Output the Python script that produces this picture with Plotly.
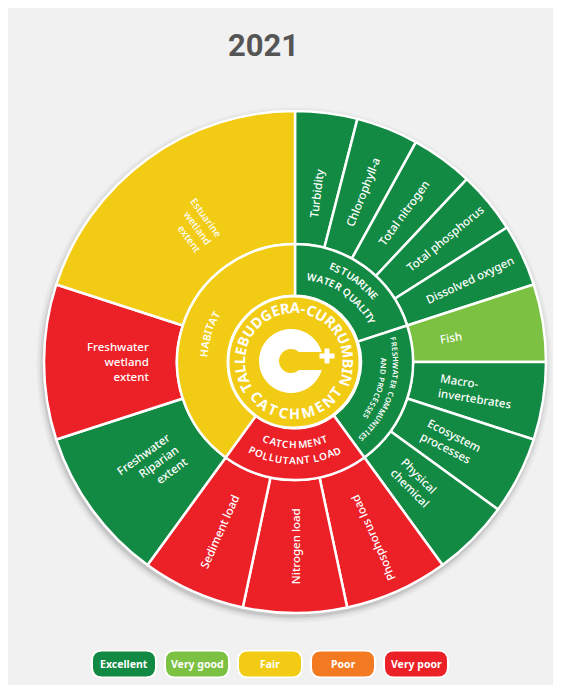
import math
import plotly.graph_objects as go

W, H = 561, 685
PAGE = 8                           # browser body margin: screen px = figure px + 8
CX, CY = 295, 362                  # wheel centre (screen px)
R_OUT, R_MID, R_IN = 251, 118, 66  # ring radii (px)
R_LABEL = 147                      # inner end of the outer-ring labels
FONT = "Noto Sans"
BG = "#f1f1f1"

# rating scale
ratings = ["Excellent", "Very good", "Fair", "Poor", "Very poor"]
rating_colors = ["#138a43", "#7cc142", "#f2cb15", "#f47a21", "#ec2027"]

# inner ring, clockwise from 12 o'clock
groups = ["ESTUARINE<br>WATER QUALITY", "FRESHWATER COMMUNITIES<br>AND PROCESSES",
          "CATCHMENT<br>POLLUTANT LOAD", "HABITAT"]
group_ratings = ["Excellent", "Excellent", "Very poor", "Fair"]
group_weights = [1, 1, 1, 2]

# outer ring, clockwise from 12 o'clock
indicators = ["Turbidity", "Chlorophyll-a", "Total nitrogen", "Total phosphorus", "Dissolved oxygen",
              "Fish", "Macro-<br>invertebrates", "Ecosystem<br>processes", "Physical<br>chemical",
              "Phosphorus load", "Nitrogen load", "Sediment load",
              "Freshwater<br>Riparian<br>extent", "Freshwater<br>wetland<br>extent",
              "Estuarine<br>wetland<br>extent"]
indicator_ratings = ["Excellent", "Excellent", "Excellent", "Excellent", "Excellent",
                     "Very good", "Excellent", "Excellent", "Excellent",
                     "Very poor", "Very poor", "Very poor",
                     "Excellent", "Very poor", "Fair"]
indicator_weights = [0.2, 0.2, 0.2, 0.2, 0.2,
                     0.25, 0.25, 0.25, 0.25,
                     1 / 3, 1 / 3, 1 / 3,
                     0.5, 0.5, 1]

catchment_top = "TALLEBUDGERA-CURRUMBIN"
catchment_bottom = "CATCHMENT"
year = "2021"

colour = dict(zip(ratings, rating_colors))

# rough glyph advance widths (em) used to lay text out along arcs / radii
EM = {" ": 0.26, "-": 0.32, "A": 0.64, "B": 0.65, "C": 0.63, "D": 0.72, "E": 0.56, "F": 0.54,
      "G": 0.72, "H": 0.74, "I": 0.3, "L": 0.53, "M": 0.9, "N": 0.76, "O": 0.78, "P": 0.6,
      "Q": 0.78, "R": 0.62, "S": 0.55, "T": 0.56, "U": 0.73, "W": 0.93, "Y": 0.57,
      "a": 0.56, "b": 0.61, "c": 0.48, "d": 0.61, "e": 0.56, "f": 0.34, "g": 0.61, "h": 0.61,
      "i": 0.26, "j": 0.26, "k": 0.53, "l": 0.26, "m": 0.93, "n": 0.61, "o": 0.6, "p": 0.61,
      "q": 0.61, "r": 0.41, "s": 0.48, "t": 0.36, "u": 0.61, "v": 0.5, "w": 0.78, "x": 0.52,
      "y": 0.5, "z": 0.47}


def to_paper(x, y):
    return (x - PAGE) / W, 1 - (y - PAGE) / H


def polar(r, theta, cx=CX, cy=CY):
    t = math.radians(theta)
    return cx + r * math.sin(t), cy - r * math.cos(t)


def norm(a):
    while a > 180:
        a -= 360
    while a <= -180:
        a += 360
    return a


def mid_angles(weights):
    total, acc, out = sum(weights), 0, []
    for w in weights:
        out.append(360 * (acc + w / 2) / total)
        acc += w
    return out


def domain(r):
    x0, y0 = to_paper(CX - r, CY + r)
    x1, y1 = to_paper(CX + r, CY - r)
    return dict(x=[x0, x1], y=[y0, y1])


def text_width(s, size, bold=False):
    return sum(EM.get(ch, 0.6) for ch in s) * size * (1.06 if bold else 1)


annotations = []
shapes = []


def label(x, y, text, size, angle=0, color="white", bold=False, family=FONT, weight=None,
          align="center"):
    fx, fy = to_paper(x, y)
    font = dict(family=family, size=size, color=color)
    if weight:
        font["weight"] = weight
    annotations.append(dict(x=fx, y=fy, xref="paper", yref="paper", borderpad=0, align=align,
                            text=f"<b>{text}</b>" if bold else text, showarrow=False,
                            textangle=norm(angle), xanchor="center", yanchor="middle", font=font))


def arc_text(text, r, theta_c, size, inward=False, span=None, track=0, bold=False, cx=CX, cy=CY,
             weight=None):
    widths = [EM.get(ch, 0.6) * size * (1.06 if bold else 1) + track for ch in text]
    if span is not None:
        extra = (math.radians(span) * r - sum(widths)) / len(text)
        widths = [w + extra for w in widths]
    s = -sum(widths) / 2
    for ch, w in zip(text, widths):
        d = math.degrees((s + w / 2) / r)
        s += w
        theta = theta_c - d if inward else theta_c + d
        x, y = polar(r, theta, cx, cy)
        label(x, y, ch, size, theta - 180 if inward else theta, bold=bold, weight=weight)


def path_from(points):
    p = [to_paper(x, y) for x, y in points]
    return "M " + " L ".join(f"{x:.5f},{y:.5f}" for x, y in p) + " Z"


def pill(x0, y0, x1, y1, rad):
    pts = [(x0 + rad, y0), (x1 - rad, y0), (x1, y0), (x1, y0 + rad), (x1, y1 - rad), (x1, y1),
           (x1 - rad, y1), (x0 + rad, y1), (x0, y1), (x0, y1 - rad), (x0, y0 + rad), (x0, y0),
           (x0 + rad, y0)]
    p = [to_paper(x, y) for x, y in pts]
    f = lambda q: f"{q[0]:.5f},{q[1]:.5f}"
    return (f"M {f(p[0])} L {f(p[1])} Q {f(p[2])} {f(p[3])} L {f(p[4])} Q {f(p[5])} {f(p[6])} "
            f"L {f(p[7])} Q {f(p[8])} {f(p[9])} L {f(p[10])} Q {f(p[11])} {f(p[12])} Z")


def circle(cx, cy, r, **kw):
    x0, y0 = to_paper(cx - r, cy + r)
    x1, y1 = to_paper(cx + r, cy - r)
    shapes.append(dict(type="circle", xref="paper", yref="paper", x0=x0, y0=y0, x1=x1, y1=y1, **kw))


fig = go.Figure()

# rings
fig.add_trace(go.Pie(values=indicator_weights, labels=indicators, sort=False, direction="clockwise",
                     rotation=0, hole=R_MID / R_OUT, domain=domain(R_OUT), textinfo="none",
                     hoverinfo="label", showlegend=False,
                     marker=dict(colors=[colour[r] for r in indicator_ratings],
                                 line=dict(color="white", width=2.5))))
fig.add_trace(go.Pie(values=group_weights, labels=groups, sort=False, direction="clockwise",
                     rotation=0, hole=R_IN / R_MID, domain=domain(R_MID), textinfo="none",
                     hoverinfo="label", showlegend=False,
                     marker=dict(colors=[colour[r] for r in group_ratings],
                                 line=dict(color="white", width=2.5))))

# soft drop shadow under the wheel
for grow, alpha in [(7, 0.025), (5, 0.035), (3, 0.05), (1.5, 0.07)]:
    circle(CX - 1, CY + 3, R_OUT + grow, fillcolor=f"rgba(0,0,0,{alpha})", line=dict(width=0),
           layer="below")

# centre disc and logo
circle(CX - 1, CY, R_IN, fillcolor=colour["Fair"], line=dict(color="white", width=3), layer="above")
ccx, ccy, ro, ri, slot = CX - 4, CY - 1, 32, 12, 9
a_out, a_in = math.degrees(math.asin(slot / ro)), math.degrees(math.asin(slot / ri))
c_pts = []
for i in range(61):
    a = math.radians(a_out + (360 - 2 * a_out) * i / 60)
    c_pts.append((ccx + ro * math.cos(a), ccy - ro * math.sin(a)))
for i in range(41):
    a = math.radians(360 - a_in - (360 - 2 * a_in) * i / 40)
    c_pts.append((ccx + ri * math.cos(a), ccy - ri * math.sin(a)))
shapes.append(dict(type="path", xref="paper", yref="paper", path=path_from(c_pts),
                   fillcolor="white", line=dict(width=0), layer="above"))
pcx, pcy = CX + 32, CY - 6
for hw, hh in [(7.5, 2.5), (2.5, 7.5)]:
    shapes.append(dict(type="path", xref="paper", yref="paper",
                       path=path_from([(pcx - hw, pcy - hh), (pcx + hw, pcy - hh),
                                       (pcx + hw, pcy + hh), (pcx - hw, pcy + hh)]),
                       fillcolor="white", line=dict(width=0), layer="above"))
arc_text(catchment_top, 55, -3.4, 14.5, span=239, bold=True, cx=CX - 1)
arc_text(catchment_bottom, 51, 176.6, 14.5, inward=True, span=114, bold=True, cx=CX - 1)

# inner ring labels (curved)
TRACK = 0.6
for name, theta, wgt in zip(groups, mid_angles(group_weights), group_weights):
    lines = name.split("<br>")
    inward = 135 < theta < 225
    n = len(lines)
    arc = math.radians(360 * wgt / sum(group_weights))
    r_c = 92 if n == 1 else (90 if inward else 95)
    size = 10.5 if n == 1 else 10
    for ln in lines:
        size = min(size, (0.9 * arc * (r_c + 6) - len(ln) * TRACK) / text_width(ln, 1))
    for k, line in enumerate(lines):
        off = (k - (n - 1) / 2) * size * 1.6
        r = r_c + (off if inward else -off)
        arc_text(line, r, theta, size, inward=inward, track=TRACK, weight=600)

# outer ring labels (radial); text starts at R_LABEL and runs outwards
label_size = {"Estuarine<br>wetland<br>extent": 10}
for name, theta in zip(indicators, mid_angles(indicator_weights)):
    size = label_size.get(name, 11.5)
    outward = theta < 150
    angle = theta - 90 if outward else theta - 270
    t = math.radians(theta)
    w = max(text_width(ln, size) for ln in name.split("<br>"))
    x, y = polar(R_LABEL + w / 2, theta)
    label(x, y, name, size, angle, weight=500, align="left" if outward else "right")

# legend pills
for i, (name, col) in enumerate(zip(ratings, rating_colors)):
    px_, py_ = 124 + 73 * i, 664
    shapes.append(dict(type="path", xref="paper", yref="paper",
                       path=pill(px_ - 33, py_ - 14.5, px_ + 33, py_ + 14.5, 11),
                       fillcolor="rgba(0,0,0,0.10)", line=dict(width=0)))
    shapes.append(dict(type="path", xref="paper", yref="paper",
                       path=pill(px_ - 32, py_ - 13.5, px_ + 32, py_ + 13.5, 10),
                       fillcolor=col, line=dict(color="white", width=2)))
    label(px_, py_, name, 10.5, bold=True)

# title
label(264, 45, year, 31, color="#555555", bold=True, family="Roboto")

fig.update_layout(width=W, height=H, margin=dict(l=0, r=0, t=0, b=0), paper_bgcolor=BG,
                  plot_bgcolor=BG, showlegend=False, shapes=shapes, annotations=annotations,
                  font=dict(family=FONT))
fig.write_html("out.html")
